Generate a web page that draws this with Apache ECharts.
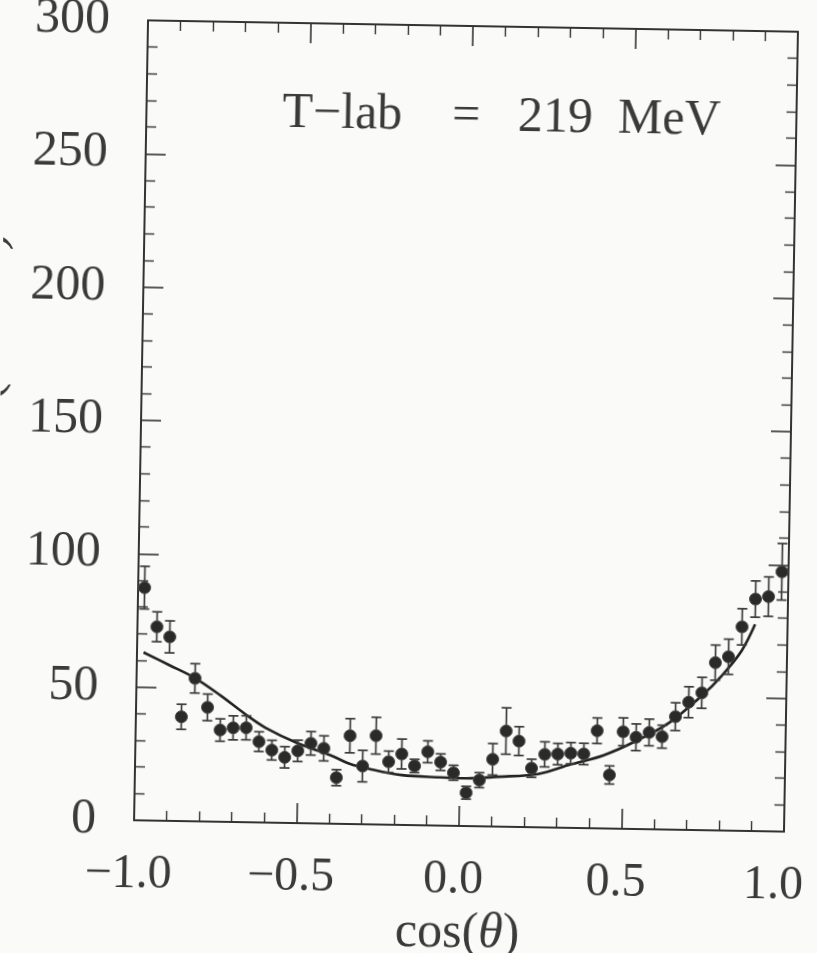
<!DOCTYPE html>
<html>
<head>
<meta charset="utf-8">
<script src="https://cdn.jsdelivr.net/npm/echarts@6/dist/echarts.min.js"></script>
<style>
  html, body { margin: 0; padding: 0; width: 817px; height: 953px; background: #fafaf8; overflow: hidden; }
  #frame { position: absolute; left: 0; top: 0; width: 817px; height: 953px; overflow: hidden; background: #fafaf8; }
  #chart { width: 817px; height: 953px; transform: rotate(1deg); transform-origin: 466px 426px; }
</style>
</head>
<body>
<div id="frame"><div id="chart"></div></div>
<script>
// Measured angular distribution (bin centres in cos theta)
const cosTheta = [
  -0.98, -0.94, -0.90, -0.86, -0.82, -0.78, -0.74, -0.70, -0.66, -0.62,
  -0.58, -0.54, -0.50, -0.46, -0.42, -0.38, -0.34, -0.30, -0.26, -0.22,
  -0.18, -0.14, -0.10, -0.06, -0.02,  0.02,  0.06,  0.10,  0.14,  0.18,
   0.22,  0.26,  0.30,  0.34,  0.38,  0.42,  0.46,  0.50,  0.54,  0.58,
   0.62,  0.66,  0.70,  0.74,  0.78,  0.82,  0.86,  0.90,  0.94,  0.98
];
const crossSection = [
  87.3, 72.7, 69.0, 39.1, 53.6, 42.8, 34.4, 35.3, 35.4, 30.3,
  27.2, 24.6, 27.1, 30.0, 28.2, 17.3, 33.1, 21.8, 33.3, 23.6,
  26.6, 22.2, 27.6, 23.8, 19.9, 12.5, 17.3, 25.2, 35.9, 32.2,
  22.1, 27.4, 27.6, 28.0, 27.8, 36.6, 20.1, 36.4, 34.4, 36.3,
  34.8, 42.4, 47.9, 51.5, 62.9, 65.2, 76.5, 87.0, 88.0, 97.4
];
const errors = [
  8.0, 5.6, 6.0, 4.7, 5.5, 5.0, 4.2, 4.5, 4.5, 3.7,
  3.7, 4.0, 4.0, 4.4, 4.7, 3.0, 6.4, 5.9, 6.9, 4.0,
  5.6, 2.5, 4.1, 3.1, 2.8, 2.4, 2.8, 5.9, 8.7, 5.4,
  3.4, 4.7, 4.0, 4.0, 4.0, 4.8, 3.4, 5.2, 5.0, 5.0,
  4.3, 5.2, 5.8, 5.8, 6.6, 6.6, 6.8, 6.8, 7.4, 10.6
];

// Model curve
const fitX = [-0.98, -0.90, -0.82, -0.74, -0.66, -0.60, -0.50, -0.40, -0.34, -0.28, -0.18,
              -0.06, 0.02, 0.12, 0.24, 0.34, 0.44, 0.54, 0.64, 0.74, 0.80, 0.86, 0.90];
const fitY = [63.0, 58.4, 53.7, 47.3, 40.2, 35.5, 29.9, 25.7, 22.6, 20.8, 18.7,
              18.1, 17.9, 18.7, 20.0, 23.8, 27.4, 33.0, 40.0, 50.4, 58.0, 67.5, 77.5];

// Tick labels
const xTickLabels = ['\u22121.0', '\u22120.5', '0.0', '0.5', '1.0'];
const yTickLabels = ['0', '50', '100', '150', '200', '250', '300'];

const ink = '#333333';
const textInk = '#3a3a3a';
const serif = '"Liberation Serif", "Times New Roman", serif';

const frameAxis = {
  type: 'value',
  axisLine: { show: true, onZero: false, lineStyle: { color: ink, width: 2 } },
  axisTick: { show: true, inside: true, length: 20, lineStyle: { color: ink, width: 1.6 } },
  minorTick: { show: true, splitNumber: 5, length: 10, lineStyle: { color: ink, width: 1.4 } },
  splitLine: { show: false },
  minorSplitLine: { show: false }
};

const chart = echarts.init(document.getElementById('chart'), null, { renderer: 'canvas' });

chart.setOption({
  backgroundColor: '#fafaf8',
  animation: false,
  grid: { left: 141, top: 26, width: 650, height: 800, containLabel: false, outerBoundsMode: 'none' },
  xAxis: [
    Object.assign({}, frameAxis, {
      position: 'bottom', min: -1, max: 1, interval: 0.5,
      axisLabel: {
        margin: 30, color: textInk,
        formatter: v => {
          const i = Math.round((v + 1) / 0.5);
          return (i === 4 ? '{e|' : '{t|') + xTickLabels[i] + '}';
        },
        rich: {
          t: { fontFamily: serif, fontSize: 48, color: textInk, padding: [0, 10, 0, 0] },
          e: { fontFamily: serif, fontSize: 48, color: textInk, padding: [0, 20, 0, 0] }
        }
      },
      name: '{n|cos(}{i|\u03b8}{n|)}',
      nameLocation: 'middle', nameGap: 72,
      nameTextStyle: {
        rich: {
          n: { fontFamily: serif, fontSize: 50, color: textInk },
          i: { fontFamily: serif, fontSize: 50, fontStyle: 'italic', color: textInk }
        }
      }
    }),
    Object.assign({}, frameAxis, {
      position: 'top', min: -1, max: 1, interval: 0.5,
      axisLabel: { show: false }
    })
  ],
  yAxis: [
    Object.assign({}, frameAxis, {
      position: 'left', min: 0, max: 300, interval: 50,
      axisLabel: {
        margin: 38, fontFamily: serif, fontSize: 50, color: textInk,
        formatter: v => yTickLabels[Math.round(v / 50)]
      }
    }),
    Object.assign({}, frameAxis, {
      position: 'right', min: 0, max: 300, interval: 50,
      axisLabel: { show: false }
    })
  ],
  graphic: [
    {
      type: 'text', left: 277, top: 92,
      style: {
        text: 'T\u2212lab    =   219  MeV',
        font: '50px ' + serif, fill: textInk
      }
    },
    {
      type: 'text', x: 12, y: 406, rotation: Math.PI / 2,
      style: {
        text: 'd\u03c3/d\u03a9 (mb/sr)',
        font: '58px ' + serif, fill: textInk,
        textAlign: 'center', textVerticalAlign: 'bottom'
      }
    }
  ],
  series: [
    {
      type: 'line',
      data: fitX.map((x, i) => [x, fitY[i]]),
      smooth: 0.35,
      showSymbol: false,
      lineStyle: { color: '#222', width: 2.6 },
      z: 3
    },
    {
      type: 'custom',
      data: cosTheta.map((x, i) => [x, crossSection[i], errors[i]]),
      encode: { x: 0, y: 1 },
      renderItem: (params, api) => {
        const x = api.value(0), y = api.value(1), e = api.value(2);
        const hi = api.coord([x, y + e]);
        const lo = api.coord([x, y - e]);
        const w = 5;
        const st = { stroke: '#3c3c3c', lineWidth: 1.7 };
        return {
          type: 'group',
          children: [
            { type: 'line', shape: { x1: hi[0], y1: hi[1], x2: lo[0], y2: lo[1] }, style: st },
            { type: 'line', shape: { x1: hi[0] - w, y1: hi[1], x2: hi[0] + w, y2: hi[1] }, style: st },
            { type: 'line', shape: { x1: lo[0] - w, y1: lo[1], x2: lo[0] + w, y2: lo[1] }, style: st }
          ]
        };
      },
      z: 4
    },
    {
      type: 'scatter',
      data: cosTheta.map((x, i) => [x, crossSection[i]]),
      symbol: 'circle',
      symbolSize: 12,
      itemStyle: { color: '#2a2a2a', borderColor: '#4a4a4a', borderWidth: 1, opacity: 1 },
      z: 5
    }
  ]
});
</script>
</body>
</html>
